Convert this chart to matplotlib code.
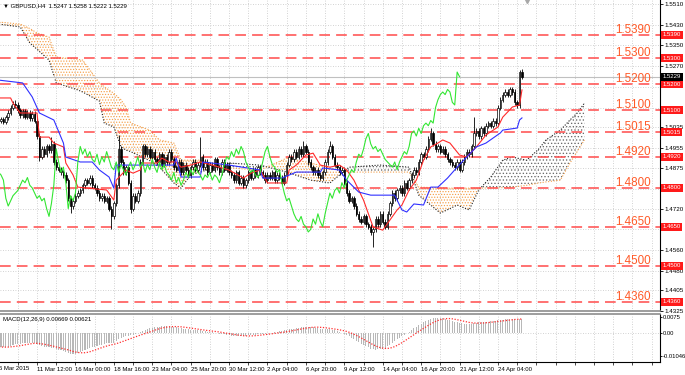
import matplotlib
matplotlib.use('Agg')
import matplotlib.pyplot as plt
import matplotlib.transforms as mtransforms
import numpy as np

plt.rcParams['font.family'] = ['Liberation Sans', 'DejaVu Sans']
plt.rcParams['hatch.linewidth'] = 0.55

# ---- GBPUSD H4 closes, one per bar (bar 0 = 6 Mar 20:00) ----
closes = [
    1.5060, 1.5065, 1.5055, 1.5072, 1.5090, 1.5110, 1.5125, 1.5120,
    1.5100, 1.5080, 1.5095, 1.5075, 1.5090, 1.5070, 1.5085, 1.5060,
    1.5000, 1.4920, 1.4950, 1.4930, 1.4960, 1.4945, 1.4970,
    1.4900, 1.4880, 1.4870, 1.4860, 1.4850, 1.4830, 1.4760, 1.4730,
    1.4750, 1.4770, 1.4780, 1.4790, 1.4810, 1.4830, 1.4820, 1.4840, 1.4810, 1.4800,
    1.4780, 1.4760, 1.4770, 1.4750, 1.4760, 1.4720, 1.4690, 1.4740, 1.4810,
    1.4950, 1.4900, 1.4860, 1.4880, 1.4820, 1.4720, 1.4770, 1.4750, 1.4780, 1.4900, 1.4960,
    1.4930, 1.4950, 1.4920, 1.4940, 1.4910, 1.4900, 1.4930, 1.4890, 1.4920, 1.4900, 1.4940, 1.4910,
    1.4880, 1.4870, 1.4900, 1.4860, 1.4890, 1.4870, 1.4850, 1.4880, 1.4900, 1.4870, 1.4890, 1.4920,
    1.4880, 1.4900, 1.4860, 1.4890, 1.4870, 1.4910, 1.4880, 1.4860, 1.4900, 1.4870, 1.4890, 1.4860,
    1.4850, 1.4830, 1.4860, 1.4820, 1.4840, 1.4810, 1.4830, 1.4860, 1.4840, 1.4870, 1.4850, 1.4880, 1.4860,
    1.4850, 1.4830, 1.4850, 1.4840, 1.4860, 1.4830, 1.4850, 1.4840, 1.4820, 1.4850,
    1.4890, 1.4920, 1.4910, 1.4940, 1.4920, 1.4950, 1.4930, 1.4960, 1.4940,
    1.4900, 1.4880, 1.4860, 1.4870, 1.4850, 1.4840, 1.4860,
    1.4900, 1.4940, 1.4960, 1.4920, 1.4890, 1.4880, 1.4860, 1.4870,
    1.4820, 1.4780, 1.4750, 1.4760, 1.4730, 1.4700, 1.4680, 1.4670, 1.4690, 1.4660, 1.4650, 1.4630, 1.4640,
    1.4680, 1.4660, 1.4700, 1.4670, 1.4650, 1.4700, 1.4740, 1.4780, 1.4760, 1.4790, 1.4800, 1.4780, 1.4820, 1.4800, 1.4830,
    1.4850, 1.4870, 1.4860, 1.4900, 1.4930, 1.4920, 1.4950, 1.4990, 1.5010,
    1.4970, 1.4950, 1.4960, 1.4940, 1.4950, 1.4930, 1.4910, 1.4900, 1.4890, 1.4880, 1.4900, 1.4870,
    1.4900, 1.4920, 1.4940, 1.4930, 1.4960, 1.5010, 1.5020, 1.5000, 1.5030, 1.5010, 1.5040, 1.5050, 1.5040, 1.5060, 1.5050,
    1.5110, 1.5140, 1.5160, 1.5170, 1.5160, 1.5180, 1.5170, 1.5130, 1.5120, 1.5247, 1.5229,
]
first_open = 1.5050
wick = 0.0010
high_marks = {7: 1.5139, 22: 1.4996, 50: 1.5005, 84: 1.4996, 127: 1.4980,
              138: 1.4980, 180: 1.5031, 198: 1.5073, 217: 1.5255, 218: 1.5258}
low_marks = {17: 1.4905, 30: 1.4705, 47: 1.4640, 55: 1.4703, 156: 1.4572,
             217: 1.5110, 218: 1.5222}

# Ichimoku lines (bar index, price)
tenkan_idx = [0, 5, 6, 9, 16, 17, 21, 23, 27, 28, 31, 33, 37, 45, 48, 49, 53, 56, 59, 60,
              66, 68, 71, 74, 76, 80, 84, 89, 96, 102, 105, 109, 112, 120, 121, 124, 128,
              131, 134, 138, 142, 145, 148, 152, 156, 160, 163, 166, 168, 171, 174, 177,
              180, 183, 185, 188, 192, 195, 199, 203, 208, 210, 214, 217, 218]
tenkan_val = [1.5147, 1.5147, 1.5127, 1.5089, 1.5089, 1.4996, 1.4996, 1.4973, 1.4958, 1.4896,
              1.4850, 1.4803, 1.4799, 1.4792, 1.4753, 1.4830, 1.4869, 1.4857, 1.4869, 1.4896,
              1.4896, 1.4915, 1.4900, 1.4900, 1.4880, 1.4888, 1.4900, 1.4888, 1.4869, 1.4838,
              1.4857, 1.4869, 1.4819, 1.4819, 1.4869, 1.4888, 1.4927, 1.4934, 1.4888, 1.4880,
              1.4888, 1.4869, 1.4830, 1.4753, 1.4649, 1.4637, 1.4676, 1.4715, 1.4734, 1.4792,
              1.4830, 1.4907, 1.4958, 1.4973, 1.4985, 1.4973, 1.4927, 1.4919, 1.4958, 1.5004,
              1.5035, 1.5073, 1.5112, 1.5120, 1.5178]
kijun_idx = [0, 10, 14, 17, 23, 27, 28, 34, 39, 42, 46, 48, 49, 73, 74, 76, 84, 85, 96, 109,
             110, 118, 124, 134, 135, 142, 145, 150, 155, 165, 168, 170, 173, 177, 180, 183,
             187, 191, 195, 199, 203, 209, 210, 216, 217, 218]
kijun_val = [1.5216, 1.5205, 1.5151, 1.5089, 1.5062, 1.4973, 1.4919, 1.4900, 1.4900, 1.4869,
             1.4842, 1.4799, 1.4888, 1.4888, 1.4915, 1.4842, 1.4842, 1.4900, 1.4888, 1.4869,
             1.4838, 1.4838, 1.4861, 1.4861, 1.4877, 1.4869, 1.4830, 1.4784, 1.4772, 1.4772,
             1.4715, 1.4707, 1.4738, 1.4734, 1.4803, 1.4803, 1.4838, 1.4880, 1.4919, 1.4958,
             1.4973, 1.5012, 1.5023, 1.5031, 1.5062, 1.5070]

# Kumo (shifted 26 bars ahead)
cloud_idx = [0, 9, 13, 16, 21, 24, 33, 35, 42, 44, 48, 51, 53, 55, 63, 67, 73, 76, 80, 84,
             96, 109, 120, 130, 138, 146, 159, 171, 175, 184, 188, 191, 196, 200, 205, 210,
             214, 220, 225, 228, 234, 238, 241, 244]
span_b = [1.5440, 1.5432, 1.5415, 1.5398, 1.5382, 1.5305, 1.5296, 1.5293, 1.5205, 1.5190,
          1.5165, 1.5140, 1.5112, 1.5050, 1.5023, 1.4985, 1.4973, 1.4907, 1.4907, 1.4907,
          1.4877, 1.4869, 1.4915, 1.4896, 1.4877, 1.4861, 1.4861, 1.4861, 1.4803, 1.4800,
          1.4799, 1.4799, 1.4799, 1.4799, 1.4800, 1.4801, 1.4803, 1.4810, 1.4819, 1.4823,
          1.4830, 1.4896, 1.4940, 1.4985]
span_a = [1.5432, 1.5421, 1.5359, 1.5335, 1.5293, 1.5205, 1.5178, 1.5170, 1.5135, 1.5050,
          1.5035, 1.4958, 1.4946, 1.4940, 1.4905, 1.4880, 1.4819, 1.4799, 1.4850, 1.4861,
          1.4896, 1.4888, 1.4861, 1.4830, 1.4819, 1.4880, 1.4888, 1.4880, 1.4772, 1.4703,
          1.4720, 1.4734, 1.4715, 1.4792, 1.4842, 1.4907, 1.4919, 1.4907, 1.4950, 1.4985,
          1.5023, 1.5062, 1.5089, 1.5127]

# MACD main (histogram), one per bar
macd = [
    -0.0062, -0.0064, -0.0065, -0.0064, -0.0062, -0.0058, -0.0054, -0.0050, -0.0048,
    -0.0047, -0.0046, -0.0046, -0.0045, -0.0044, -0.0044, -0.0045, -0.0050, -0.0056,
    -0.0060, -0.0063, -0.0064, -0.0065, -0.0066, -0.0069, -0.0072, -0.0075,
    -0.0079, -0.0082, -0.0086, -0.0092, -0.0097, -0.0096, -0.0094, -0.0091,
    -0.0087, -0.0082, -0.0077, -0.0072, -0.0068, -0.0065, -0.0062,
    -0.0058, -0.0055, -0.0052, -0.0049, -0.0046, -0.0045, -0.0046, -0.0043,
    -0.0036, -0.0026, -0.0020, -0.0016, -0.0012, -0.0011, -0.0010, -0.0008,
    -0.0005, 0.0000, 0.0006, 0.0012, 0.0016, 0.0020, 0.0023, 0.0026, 0.0028,
    0.0030, 0.0031, 0.0032, 0.0032, 0.0033, 0.0032, 0.0031, 0.0030, 0.0028,
    0.0026, 0.0024, 0.0022, 0.0020, 0.0018, 0.0016, 0.0015, 0.0014, 0.0013,
    0.0013, 0.0011, 0.0009, 0.0008, 0.0006, 0.0005, 0.0003, 0.0001, -0.0001, -0.0003,
    -0.0005, -0.0007, -0.0009, -0.0011, -0.0013, -0.0014, -0.0014,
    -0.0014, -0.0013, -0.0012, -0.0010, -0.0009, -0.0007, -0.0006, -0.0004, -0.0003,
    -0.0002, -0.0001, 0.0000, 0.0002, 0.0003, 0.0005,
    0.0007, 0.0009, 0.0011, 0.0013, 0.0015, 0.0018, 0.0020, 0.0022, 0.0024, 0.0026,
    0.0028, 0.0030, 0.0031, 0.0031, 0.0030,
    0.0028, 0.0026, 0.0024, 0.0022, 0.0020, 0.0019, 0.0019, 0.0018, 0.0016, 0.0013,
    0.0010, 0.0007, 0.0003, -0.0002, -0.0008, -0.0014,
    -0.0020, -0.0027, -0.0034, -0.0041, -0.0048, -0.0054, -0.0060, -0.0065, -0.0070,
    -0.0074, -0.0075, -0.0074, -0.0072, -0.0070, -0.0066, -0.0060,
    -0.0052, -0.0044, -0.0036, -0.0028, -0.0020, -0.0013, -0.0006, 0.0000,
    0.0008, 0.0016, 0.0024, 0.0031, 0.0038, 0.0044, 0.0050, 0.0056,
    0.0062, 0.0067, 0.0070, 0.0071, 0.0072, 0.0071, 0.0069, 0.0066, 0.0063, 0.0060, 0.0057, 0.0054,
    0.0051, 0.0049, 0.0047, 0.0045, 0.0044, 0.0044, 0.0045, 0.0047, 0.0049, 0.0050,
    0.0051, 0.0052, 0.0053, 0.0054, 0.0055, 0.0056, 0.0057, 0.0059, 0.0061, 0.0063,
    0.0064, 0.0066, 0.0067, 0.0068, 0.0067, 0.0065, 0.0067, 0.0067,
]

levels = [1.5390, 1.5300, 1.5200, 1.5100, 1.5015, 1.4920, 1.4800, 1.4650, 1.4500, 1.4360]
last_price = 1.5229
price_ticks = [1.5510, 1.5430, 1.5350, 1.5270, 1.5190, 1.5110, 1.5035, 1.4955, 1.4875,
               1.4795, 1.4720, 1.4640, 1.4560, 1.4480, 1.4405, 1.4325]
hidden_ticks = [1.5190, 1.4795, 1.4640]   # covered by the level boxes
time_ticks = [16, 32, 48, 64, 80, 96, 112, 128, 144, 160, 176, 192, 208]
time_labels = ['11 Mar 12:00', '16 Mar 00:00', '18 Mar 16:00', '23 Mar 04:00', '25 Mar 20:00',
               '30 Mar 12:00', '2 Apr 04:00', '6 Apr 20:00', '9 Apr 12:00', '14 Apr 04:00',
               '16 Apr 20:00', '21 Apr 12:00', '24 Apr 04:00']

ORANGE = '#f5a04a'
LEVEL_RED = '#ff4a4a'

close = np.array(closes)
opens = np.r_[first_open, close[:-1]]
highs = np.maximum(opens, close) + wick
lows = np.minimum(opens, close) - wick
for k, v in high_marks.items():
    highs[k] = v
for k, v in low_marks.items():
    lows[k] = v
idx = np.arange(len(close))

fig = plt.figure(figsize=(6.85, 3.75), dpi=100)
ax = fig.add_axes([0, 1 - 311 / 375, 660 / 685, 311 / 375])
ax2 = fig.add_axes([0, 1 - 362 / 375, 660 / 685, 48 / 375])

grid_kw = dict(color='#c4c4c4', ls=(0, (1, 2)), lw=0.6)

# ---- main panel ----
ax.set_xlim(0.58, 275.5)
ax.set_ylim(1.4325, 1.5525)
ax.set_xticks(np.arange(8, 276, 8))
ax.set_yticks(price_ticks)
ax.grid(True, **grid_kw)
ax.set_axisbelow(True)
ax.tick_params(axis='x', length=0, labelbottom=False)
ax.yaxis.tick_right()
ax.tick_params(axis='y', direction='out', length=2, width=0.6, pad=1.5, labelsize=4.5)
ax.set_yticklabels(['' if t in hidden_ticks else f'{t:.4f}' for t in price_ticks])
for s in ['left', 'top']:
    ax.spines[s].set_visible(False)
ax.spines['right'].set_color('black')
ax.spines['right'].set_linewidth(0.8)
ax.spines['bottom'].set_color('#8c8c8c')
ax.spines['bottom'].set_linewidth(1.2)

# kumo
ci = np.array(cloud_idx)
sa = np.array(span_a)
sb = np.array(span_b)
ax.fill_between(ci, sa, sb, where=sb >= sa, interpolate=True, facecolor='none',
                edgecolor=ORANGE, hatch='......', lw=0, zorder=1)
ax.fill_between(ci, sa, sb, where=sa > sb, interpolate=True, facecolor='none',
                edgecolor='#6a6a6a', hatch='.....', lw=0, zorder=1)
ax.plot(ci, sa, color='#202020', ls=(0, (1, 1.5)), lw=0.8, zorder=2)
ax.plot(ci, sb, color=ORANGE, ls=(0, (1, 1.5)), lw=0.8, zorder=2)

# horizontal levels
off = mtransforms.offset_copy(mtransforms.blended_transform_factory(ax.transAxes, ax.transData),
                              fig=fig, y=1.5, units='points')
tr_r = mtransforms.blended_transform_factory(ax.transAxes, ax.transData)
for lv in levels:
    ax.axhline(lv, color=LEVEL_RED, lw=1.1, dashes=(7, 4), zorder=2)
    ax.text(0.986, lv, f'{lv:.4f}', transform=off, ha='right', va='baseline',
            fontsize=8.4, color='#ff5a28', zorder=6)
    ax.text(1.004, lv, f'{lv:.4f}', transform=tr_r, ha='left', va='center', fontsize=4.3,
            color='white', clip_on=False, zorder=10,
            bbox=dict(boxstyle='square,pad=0.25', fc='#ff1a1a', ec='none'))
ax.axhline(last_price, color='#c0c0c0', lw=0.8, zorder=2)
ax.text(1.004, last_price, f'{last_price:.4f}', transform=tr_r, ha='left', va='center',
        fontsize=4.3, color='white', clip_on=False, zorder=11,
        bbox=dict(boxstyle='square,pad=0.25', fc='black', ec='none'))

# candles
up = close >= opens
ax.vlines(idx, lows, highs, color='black', lw=0.6, zorder=3)
ax.bar(idx[up], (close - opens)[up], bottom=opens[up], width=0.6, color='white',
       edgecolor='black', lw=0.5, zorder=4)
ax.bar(idx[~up], (opens - close)[~up], bottom=close[~up], width=0.6, color='black',
       edgecolor='black', lw=0.5, zorder=4)

# tenkan / kijun / chikou
ax.plot(tenkan_idx, tenkan_val, color='#ff2a2a', lw=0.8, zorder=5)
ax.plot(kijun_idx, kijun_val, color='#3030ff', lw=0.8, zorder=5)
ax.plot(idx[:-26], close[26:], color='#33e633', lw=0.8, zorder=5)

ax.plot([527 / 660], [0.996], marker='v', ms=3, color='#a8a8a8', transform=ax.transAxes,
        clip_on=False, zorder=12)
fig.text(3 / 685, 1 - 6 / 375, '\u25bc GBPUSD,H4  1.5247 1.5258 1.5222 1.5229',
         fontsize=4.3, va='center', ha='left')

# ---- MACD panel ----
m = np.array(macd)
signal = np.convolve(m, np.ones(9) / 9, mode='full')[:len(m)]
signal[:8] = [m[:k + 1].mean() for k in range(8)]
ax2.set_xlim(0.58, 275.5)
ax2.set_ylim(-0.0132, 0.00888)
ax2.bar(idx, m, width=0.45, color='#b8b8b8', zorder=2)
ax2.plot(idx, signal, color='#ff3030', ls=(0, (1, 1.3)), lw=0.9, zorder=3)
ax2.axhline(0, **grid_kw, zorder=1)
ax2.set_xticks(np.arange(8, 276, 8))
lab = {t: s for t, s in zip(time_ticks, time_labels)}
ax2.set_xticklabels([lab.get(t, '') for t in range(8, 276, 8)])
ax2.xaxis.grid(True, **grid_kw)
ax2.set_axisbelow(True)
ax2.tick_params(axis='x', direction='out', length=2, width=0.5, pad=1.5, labelsize=4.3)
for t in ax2.get_xticklabels():
    t.set_ha('left')
ax2.text(0, -0.0132, '6 Mar 2015', ha='left', va='top', fontsize=4.3,
         transform=mtransforms.offset_copy(ax2.transData, fig=fig, y=-2.6, units='points'),
         clip_on=False)
ax2.yaxis.tick_right()
ax2.set_yticks([0.0075, 0.0, -0.01046])
ax2.set_yticklabels(['0.0075', '0.00', '-0.01046'])
ax2.tick_params(axis='y', direction='out', length=1.5, width=0.6, pad=0.8, labelsize=4.2)
ax2.spines['left'].set_visible(False)
ax2.spines['top'].set_color('#8c8c8c')
ax2.spines['top'].set_linewidth(1.2)
ax2.spines['right'].set_linewidth(0.8)
ax2.spines['bottom'].set_linewidth(0.8)
ax2.text(0.004, 0.93, 'MACD(12,26,9) 0.00669 0.00621', transform=ax2.transAxes,
         fontsize=4.3, va='top', ha='left')

fig.savefig('out.png', dpi=100)
